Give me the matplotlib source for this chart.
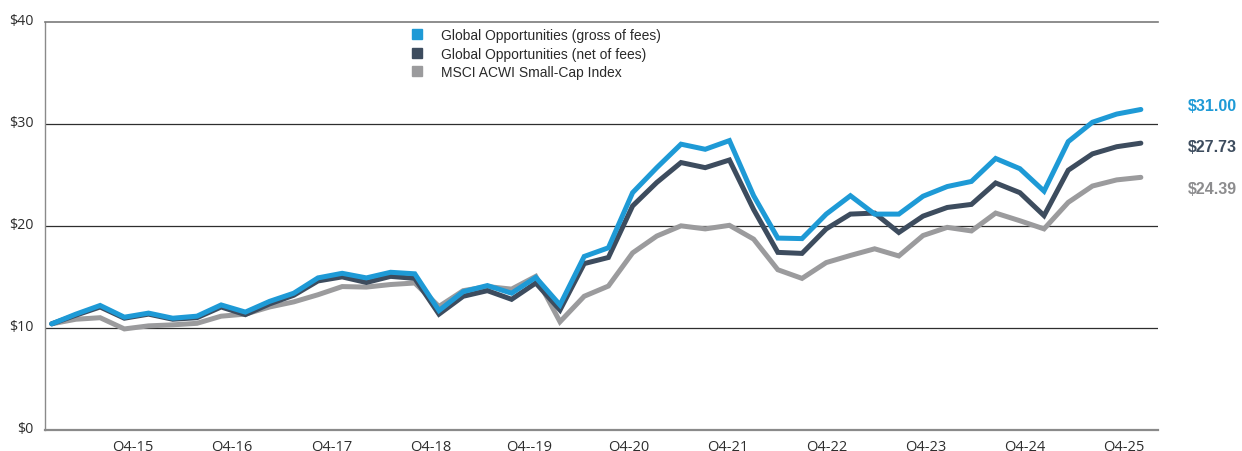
import numpy as np
import matplotlib
matplotlib.use("Agg")
import matplotlib.pyplot as plt
from matplotlib.lines import Line2D
from matplotlib.transforms import ScaledTranslation

# ---- data (growth of $10, quarterly) ----
gross = [10.4, 11.35, 12.2, 11.05, 11.45, 10.95, 11.15, 12.25, 11.55, 12.6,
         13.4, 14.9, 15.35, 14.9, 15.45, 15.3, 11.7, 13.55, 14.15, 13.4,
         14.95, 12.25, 17.0, 17.85, 23.25, 25.7, 28.0, 27.5, 28.35, 22.95,
         18.8, 18.75, 21.15, 22.95, 21.15, 21.15, 22.9, 23.85, 24.35, 26.6,
         25.6, 23.4, 28.25, 30.15, 30.95, 31.4]
net = [10.4, 11.25, 12.05, 10.95, 11.35, 10.85, 11.0, 12.05, 11.3, 12.35,
       13.2, 14.6, 15.0, 14.45, 15.05, 14.85, 11.35, 13.1, 13.65, 12.8,
       14.4, 11.75, 16.3, 16.9, 21.95, 24.25, 26.2, 25.7, 26.45, 21.6,
       17.4, 17.3, 19.7, 21.15, 21.25, 19.35, 20.95, 21.8, 22.1, 24.2,
       23.25, 21.0, 25.45, 27.05, 27.75, 28.1]
index = [10.4, 10.85, 11.0, 9.9, 10.2, 10.3, 10.45, 11.15, 11.35, 12.05,
         12.55, 13.25, 14.05, 14.0, 14.25, 14.4, 12.1, 13.65, 14.05, 13.8,
         15.05, 10.6, 13.1, 14.1, 17.35, 19.0, 20.0, 19.7, 20.05, 18.7,
         15.7, 14.85, 16.4, 17.1, 17.75, 17.05, 19.05, 19.85, 19.5, 21.25,
         20.5, 19.7, 22.3, 23.9, 24.5, 24.75]
series_names = ["Global Opportunities (gross of fees)",
                "Global Opportunities (net of fees)",
                "MSCI ACWI Small-Cap Index"]
end_labels = ["$31.00", "$27.73", "$24.39"]
end_label_y = [31.8, 27.75, 23.7]
x_labels = ["Q4-15", "Q4-16", "Q4-17", "Q4-18", "Q4--19", "Q4-20",
            "Q4-21", "Q4-22", "Q4-23", "Q4-24", "Q4-25"]
y_ticks = [0, 10, 20, 30, 40]
y_labels = ["$0", "$10", "$20", "$30", "$40"]

c_gross = "#1E9AD6"
c_net = "#3D4C5E"
c_idx = "#9B9B9D"
c_idx_txt = "#8C8C8E"

fig = plt.figure(figsize=(12.42, 4.52), dpi=100)
ax = fig.add_axes([0.0362, 0.0465, 0.8962, 0.9033])

x = np.arange(len(gross))
lw = 3.6
ax.plot(x, index, color=c_idx, lw=lw, solid_joinstyle="miter",
        solid_capstyle="round", zorder=3)
ax.plot(x, net, color=c_net, lw=lw, solid_joinstyle="miter",
        solid_capstyle="round", zorder=4)
ax.plot(x, gross, color=c_gross, lw=lw, solid_joinstyle="miter",
        solid_capstyle="round", zorder=5)

ax.set_xlim(-0.28, 45.71)
ax.set_ylim(0, 40)

for v in y_ticks[1:-1]:
    ax.axhline(v, color="#2E2E2E", lw=0.9, zorder=1)

ax.spines["right"].set_visible(False)
ax.spines["top"].set_color("#7A7A7A")
ax.spines["top"].set_linewidth(1.2)
ax.spines["bottom"].set_color("#8A8A8A")
ax.spines["bottom"].set_linewidth(1.6)
ax.spines["left"].set_color("#8A8A8A")
ax.spines["left"].set_linewidth(1.0)

tick_font = "Open Sans"
ax.set_yticks(y_ticks)
ax.set_yticklabels(y_labels, fontfamily=tick_font, fontsize=10.3, color="#2E2E2E")
ax.tick_params(axis="y", length=0, pad=8)
off = ScaledTranslation(0, 3 / 100, fig.dpi_scale_trans)
for lab in ax.get_yticklabels():
    lab.set_transform(lab.get_transform() + off)

ax.set_xticks(np.linspace(3.36, 44.31, len(x_labels)))
ax.set_xticklabels(x_labels, fontfamily=tick_font, fontsize=10.5, color="#2E2E2E")
ax.tick_params(axis="x", length=0, pad=6)

handles = [Line2D([], [], marker="s", linestyle="none", markersize=6.5, color=c)
           for c in (c_gross, c_net, c_idx)]
leg = ax.legend(handles, series_names, loc="upper left",
                bbox_to_anchor=(410.5 / 1242, 1 - 29 / 452),
                bbox_transform=fig.transFigure, frameon=False,
                prop={"family": "Liberation Sans", "size": 10},
                handlelength=1.0, handletextpad=1.2, labelspacing=0.33,
                borderpad=0, borderaxespad=0)
for t in leg.get_texts():
    t.set_color("#2A2A2A")

for lbl, yv, c in zip(end_labels, end_label_y, (c_gross, c_net, c_idx_txt)):
    ax.text(46.95, yv, lbl, color=c, fontfamily="Liberation Sans",
            fontweight="bold", fontsize=11.5, ha="left", va="center",
            clip_on=False)

fig.savefig("out.png", dpi=100)
